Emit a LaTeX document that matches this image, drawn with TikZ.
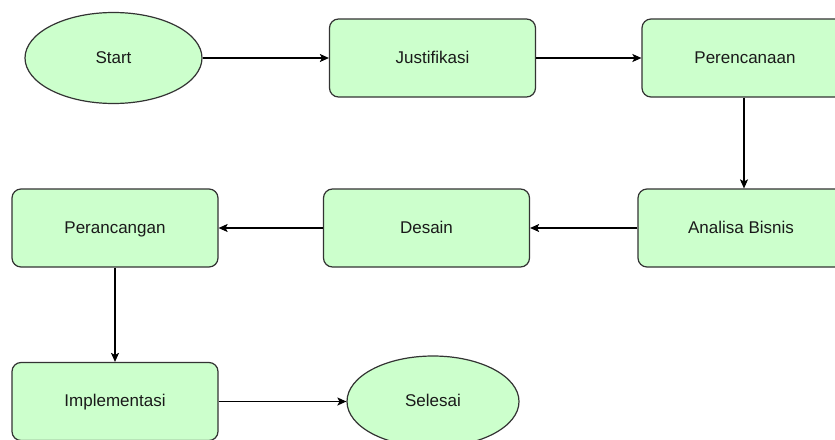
\documentclass[tikz,border=0pt]{standalone}
\usepackage{fontspec}
\setmainfont{Liberation Sans}
\usetikzlibrary{shapes.geometric,arrows.meta}
\definecolor{boxfill}{HTML}{CCFFCC}
\definecolor{boxline}{HTML}{333333}
\definecolor{txt}{HTML}{1A1A1A}
\begin{document}
\begin{tikzpicture}[x=1pt,y=-1pt,
  stepbox/.style={draw=boxline, fill=boxfill, line width=1.2pt, rounded corners=9pt,
    minimum width=206pt, minimum height=78pt, inner sep=0pt,
    text height=10.5pt, text depth=0pt,
    font=\fontsize{17}{20}\selectfont, text=txt},
  term/.style={draw=boxline, fill=boxfill, line width=1.2pt, ellipse, inner sep=0pt,
    text height=10.5pt, text depth=0pt,
    font=\fontsize{17}{20}\selectfont, text=txt},
  conn/.style={draw=black, line width=1.1pt, -{Stealth[length=9pt,width=8pt,inset=2pt]}}]
\useasboundingbox (0,0) rectangle (835,439);
\clip (0,0) rectangle (835,439);
\node[term, minimum width=177pt, minimum height=91pt] (start) at (113.5,58) {Start};
\node[stepbox] (just) at (432.5,58) {Justifikasi};
\node[stepbox] (renc) at (745,58) {Perencanaan};
\node[stepbox] (anal) at (741,228) {Analisa Bisnis};
\node[stepbox] (des) at (426.5,228) {Desain};
\node[stepbox] (ranc) at (115,228) {Perancangan};
\node[stepbox] (impl) at (115,401.5) {Implementasi};
\node[term, minimum width=172pt, minimum height=91pt] (sel) at (433,401.5) {Selesai};
\draw[conn] (start) -- (just);
\draw[conn] (just) -- (renc);
\draw[conn] (renc.south -| 744,0) -- (anal.north -| 744,0);
\draw[conn] (anal) -- (des);
\draw[conn] (des) -- (ranc);
\draw[conn] (ranc) -- (impl);
\draw[conn] (impl) -- (sel);
\end{tikzpicture}
\end{document}
